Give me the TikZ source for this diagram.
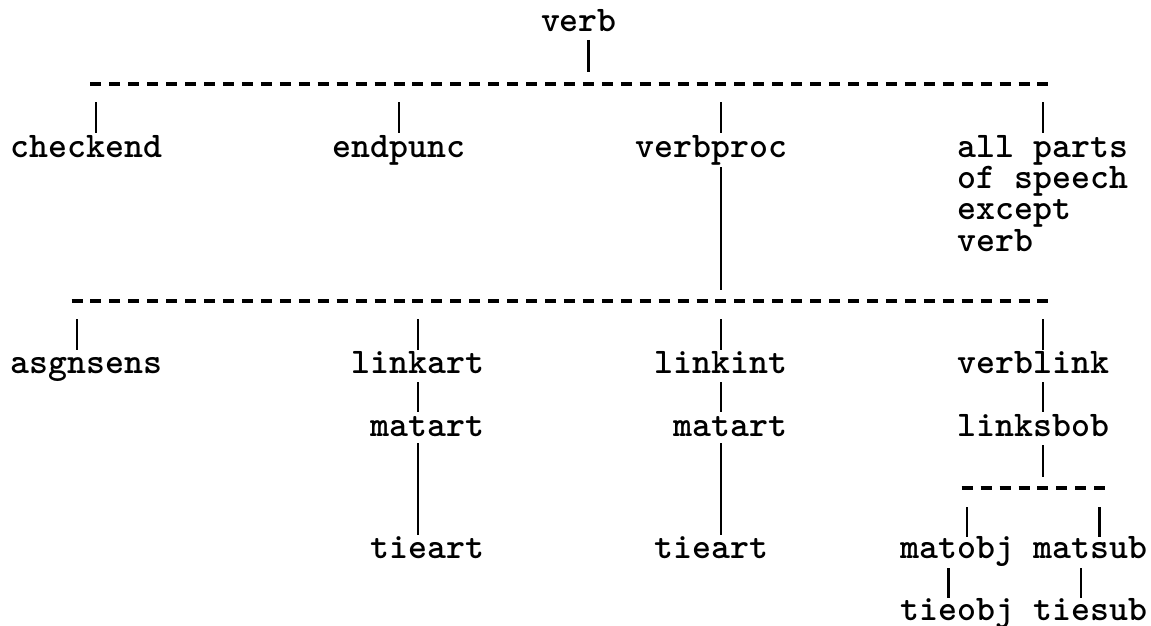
\documentclass[tikz,border=0pt]{standalone}
\begin{document}
\begin{tikzpicture}[x=1pt,y=-1pt,
  lbl/.style={anchor=base west, inner sep=0pt, outer sep=0pt,
    font=\fontsize{36.08}{31.4}\fontfamily{lmtt}\fontseries{b}\selectfont},
  tick/.style={line width=2.6pt},
  rulerow/.style={line width=3.4pt, dash pattern=on 11pt off 7.94pt}]
\useasboundingbox (0,0) rectangle (1151,626);
% ---- labels (typewriter columns: left = 10.7 + 18.94*c)
\node[lbl] (verb)     at (541.02,32)  {verb};
\node[lbl] (checkend) at (10.7,157)   {checkend};
\node[lbl] (endpunc)  at (332.68,157) {endpunc};
\node[lbl] (verbproc) at (635.72,157) {verbproc};
% multi-line node: its base is the last line, whose baseline is 157 + 3*31.4
\node[lbl, align=left] (allparts) at (957.7,251.2) {all parts\\of speech\\except\\verb};
\node[lbl] (asgnsens) at (10.7,373)   {asgnsens};
\node[lbl] (linkart)  at (351.62,373) {linkart};
\node[lbl] (linkint)  at (654.66,373) {linkint};
\node[lbl] (verblink) at (957.7,373)  {verblink};
\node[lbl] (matartA)  at (370.56,436) {matart};
\node[lbl] (matartB)  at (673.6,436)  {matart};
\node[lbl] (linksbob) at (957.7,436)  {linksbob};
\node[lbl] (tieartA)  at (370.56,558) {tieart};
\node[lbl] (tieartB)  at (654.66,558) {tieart};
\node[lbl] (matobj)   at (900.88,558) {matobj};
\node[lbl] (matsub)   at (1033.46,558) {matsub};
\node[lbl] (tieobj)   at (900.88,620) {tieobj};
\node[lbl] (tiesub)   at (1033.46,620) {tiesub};
% ---- dashed rules
\draw[rulerow] (90.46,84) coordinate (r1w) -- (1048.46,84) coordinate (r1e);
\draw[rulerow] (71.52,301) coordinate (r2w) -- (1048.46,301) coordinate (r2e);
\draw[rulerow] (961.7,488) coordinate (r3w) -- (1105.28,488) coordinate (r3e);
% ---- vertical ticks
\draw[tick] (588.37,40) -- (588.37,72);
\draw[tick] (95.93,102) -- (95.93,133);
\draw[tick] (398.97,102) -- (398.97,133);
\draw[tick] (720.95,102) -- (720.95,133);
\draw[tick] (1042.93,102) -- (1042.93,133);
\draw[tick] (720.95,167) -- (720.95,290);
\draw[tick] (76.99,319) -- (76.99,350);
\draw[tick] (417.91,319) -- (417.91,350);
\draw[tick] (720.95,319) -- (720.95,350);
\draw[tick] (1042.93,319) -- (1042.93,350);
\draw[tick] (417.91,382) -- (417.91,412);
\draw[tick] (720.95,382) -- (720.95,412);
\draw[tick] (1042.93,382) -- (1042.93,412);
\draw[tick] (417.91,443) -- (417.91,535);
\draw[tick] (720.95,443) -- (720.95,535);
\draw[tick] (1042.93,445) -- (1042.93,477);
\draw[tick] (967.17,507) -- (967.17,537);
\draw[tick] (1099.75,507) -- (1099.75,537);
\draw[tick] (948.23,568) -- (948.23,598);
\draw[tick] (1080.81,568) -- (1080.81,598);
\end{tikzpicture}
\end{document}
